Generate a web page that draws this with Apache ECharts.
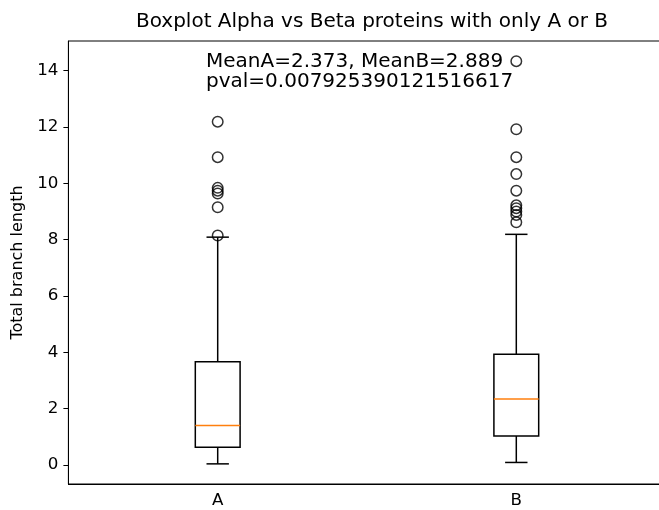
<!DOCTYPE html>
<html>
<head>
<meta charset="utf-8">
<script src="https://cdn.jsdelivr.net/npm/echarts@6/dist/echarts.min.js"></script>
<style>
  html, body { margin: 0; padding: 0; background: #fff; overflow: hidden; }
  /* the plot frame runs slightly past the right edge of the window */
  #chart { width: 666px; height: 510px; }
</style>
</head>
<body>
<div id="chart"></div>
<script>
// Groups and five-number summaries
const categories = ['A', 'B'];
const lowerWhisker = [0.04, 0.09];
const q1 = [0.63, 1.03];
const median = [1.40, 2.34];
const q3 = [3.67, 3.93];
const upperWhisker = [8.09, 8.19];

// Points beyond the whiskers
const outliersA = [8.15, 9.15, 9.64, 9.74, 9.84, 10.93, 12.19];
const outliersB = [8.62, 8.88, 9.0, 9.12, 9.22, 9.74, 10.33, 10.93, 11.92, 14.34];

const yTicks = [0, 2, 4, 6, 8, 10, 12, 14];

const titleText = 'Boxplot Alpha vs Beta proteins with only A or B';
const statsText = 'MeanA=2.373, MeanB=2.889\npval=0.007925390121516617';

const FONT = 'DejaVu Sans';

const boxData = categories.map((c, i) => [i, lowerWhisker[i], q1[i], median[i], q3[i], upperWhisker[i]]);
const flierData = [];
outliersA.forEach(v => flierData.push([0, v]));
outliersB.forEach(v => flierData.push([1, v]));

function renderBox(params, api) {
  const x = api.value(0);
  const band = api.size([1, 0])[0];
  const boxW = band * 0.15;
  const capW = boxW / 2;
  const cx = api.coord([x, 0])[0];
  const yLow = api.coord([x, api.value(1)])[1];
  const yQ1 = api.coord([x, api.value(2)])[1];
  const yMed = api.coord([x, api.value(3)])[1];
  const yQ3 = api.coord([x, api.value(4)])[1];
  const yHigh = api.coord([x, api.value(5)])[1];
  const stroke = { stroke: '#000', lineWidth: 1.5, fill: null };
  return {
    type: 'group',
    children: [
      { type: 'line', shape: { x1: cx, y1: yQ1, x2: cx, y2: yLow }, style: stroke },
      { type: 'line', shape: { x1: cx, y1: yQ3, x2: cx, y2: yHigh }, style: stroke },
      { type: 'line', shape: { x1: cx - capW / 2, y1: yLow, x2: cx + capW / 2, y2: yLow }, style: stroke },
      { type: 'line', shape: { x1: cx - capW / 2, y1: yHigh, x2: cx + capW / 2, y2: yHigh }, style: stroke },
      { type: 'rect', shape: { x: cx - boxW / 2, y: yQ3, width: boxW, height: yQ1 - yQ3 }, style: { stroke: '#000', lineWidth: 1.5, fill: 'none' } },
      { type: 'line', shape: { x1: cx - boxW / 2, y1: yMed, x2: cx + boxW / 2, y2: yMed }, style: { stroke: '#ff7f0e', lineWidth: 1.5 } }
    ]
  };
}

const chart = echarts.init(document.getElementById('chart'), null, { renderer: 'canvas' });
chart.setOption({
  animation: false,
  backgroundColor: '#fff',
  title: {
    text: titleText,
    left: 367, top: 7, textAlign: 'center',
    textStyle: { fontFamily: FONT, fontSize: 20, fontWeight: 'normal', color: '#000' }
  },
  grid: {
    left: 68.4, top: 41, right: 0.4, bottom: 26,
    show: true, borderColor: '#000', borderWidth: 1, backgroundColor: 'transparent'
  },
  xAxis: {
    type: 'category',
    data: categories,
    boundaryGap: true,
    axisLine: { onZero: false, lineStyle: { color: '#000', width: 1 } },
    axisTick: { alignWithLabel: true, length: 5, lineStyle: { color: '#000' } },
    axisLabel: { margin: 8, color: '#000', fontFamily: FONT, fontSize: 16.7 },
    splitLine: { show: false }
  },
  yAxis: {
    type: 'value',
    min: -0.675, max: 15.055,
    name: 'Total branch length',
    nameLocation: 'middle',
    nameGap: 36,
    nameTextStyle: { fontFamily: FONT, fontSize: 16, color: '#000' },
    axisLine: { show: true, lineStyle: { color: '#000', width: 1 } },
    axisTick: { show: true, length: 5, customValues: yTicks, lineStyle: { color: '#000' } },
    axisLabel: { customValues: yTicks, margin: 10, color: '#000', fontFamily: FONT, fontSize: 16.7 },
    splitLine: { show: false }
  },
  series: [
    {
      type: 'custom',
      renderItem: renderBox,
      encode: { x: 0, y: [1, 2, 3, 4, 5] },
      data: boxData,
      z: 2
    },
    {
      type: 'scatter',
      data: flierData,
      symbol: 'circle',
      symbolSize: 10.5,
      itemStyle: { color: 'rgba(0,0,0,0)', borderColor: '#000', borderWidth: 1.5 },
      z: 3
    }
  ],
  graphic: [
    {
      type: 'text',
      left: 206, top: 51.5,
      style: {
        text: statsText,
        font: '20px "DejaVu Sans"',
        fill: '#000',
        lineHeight: 20
      }
    }
  ]
});
</script>
</body>
</html>
